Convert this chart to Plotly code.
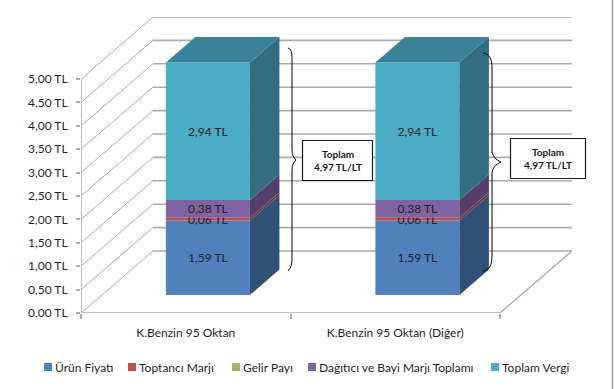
import plotly.graph_objects as go

categories = ["K.Benzin 95 Oktan", "K.Benzin 95 Oktan (Diğer)"]
series_names = ["Ürün Fiyatı", "Toptancı Marjı", "Gelir Payı", "Dağıtıcı ve Bayi Marjı Toplamı", "Toplam Vergi"]
urun_fiyati = [1.59, 1.59]
toptanci_marji = [0.06, 0.06]
gelir_payi = [0.0, 0.0]
dagitici_bayi = [0.38, 0.38]
toplam_vergi = [2.94, 2.94]
series_values = [urun_fiyati, toptanci_marji, gelir_payi, dagitici_bayi, toplam_vergi]
y_ticks = [0, 0.5, 1, 1.5, 2, 2.5, 3, 3.5, 4, 4.5, 5]
y_tick_text = ["0,00 TL", "0,50 TL", "1,00 TL", "1,50 TL", "2,00 TL", "2,50 TL",
               "3,00 TL", "3,50 TL", "4,00 TL", "4,50 TL", "5,00 TL"]
total_label = "Toplam<br>4,97 TL/LT"

front_colors = ["#4F81BD", "#C0504D", "#9BBB59", "#8064A2", "#4BACC6"]
side_colors = ["#2F5077", "#7B3331", "#62773A", "#543F6C", "#316D7F"]
top_color = "#398299"
grid = "#ABABAB"
text_col = "#1F1F1F"
font = "Lato, Carlito, Calibri, sans-serif"

W, H = 614, 389
L, R, T, B = 81, 573, 17, 313
unit_y = 46.8          # pixels per 1 TL
unit_x = 209.5         # pixels per category
DX, DY = 72 / unit_x, 62 / unit_y            # full floor depth in axis units
D0, D1 = 0.29, 0.70                          # depth of bar front and back (fraction)
BAR_W = 84 / unit_x
BAR_OFFSET = 0.006
x_range = [0, (R - L) / unit_x]
y_range = [0, (B - T) / unit_y]


def px(x):
    return (x - L) / (R - L)


def py(y):
    return (B - y) / (B - T)


fig = go.Figure()

# walls: grid lines running from the value axis into the depth and along the back
diag_x, diag_y, back_x, back_y = [], [], [], []
for v in y_ticks:
    diag_x += [0, DX, None]
    diag_y += [v, v + DY, None]
    back_x += [DX, 2 + DX, None]
    back_y += [v + DY, v + DY, None]
fig.add_trace(go.Scatter(x=diag_x, y=diag_y, mode="lines", line=dict(color=grid, width=1),
                         hoverinfo="skip", showlegend=False, cliponaxis=False))
fig.add_trace(go.Scatter(x=back_x, y=back_y, mode="lines", line=dict(color=grid, width=1.6),
                         hoverinfo="skip", showlegend=False, cliponaxis=False))
fig.add_trace(go.Scatter(x=[0, 2, 2 + DX], y=[0, 0, DY], mode="lines", line=dict(color=grid, width=1.4),
                         hoverinfo="skip", showlegend=False, cliponaxis=False))
fig.add_trace(go.Scatter(x=[0, 0], y=[0, y_ticks[-1]], mode="lines", line=dict(color="#BDBDBD", width=2),
                         hoverinfo="skip", showlegend=False, cliponaxis=False))

# bars
for c in range(len(categories)):
    cx = c + 0.5 + BAR_OFFSET
    left = cx - BAR_W / 2 + DX * D0
    right = cx + BAR_W / 2 + DX * D0
    shift = (D1 - D0)
    cum = DY * D0
    for s, vals in enumerate(series_values):
        v = vals[c]
        if v > 0:
            fig.add_trace(go.Scatter(
                x=[right, right + DX * shift, right + DX * shift, right, right],
                y=[cum, cum + DY * shift, cum + v + DY * shift, cum + v, cum],
                mode="lines", fill="toself", fillcolor=side_colors[s], line=dict(width=0),
                hoverinfo="skip", showlegend=False, xaxis="x2", yaxis="y2"))
        cum += v
    fig.add_trace(go.Scatter(
        x=[left, left + DX * shift, right + DX * shift, right, left],
        y=[cum, cum + DY * shift, cum + DY * shift, cum, cum],
        mode="lines", fill="toself", fillcolor=top_color, line=dict(width=0),
        hoverinfo="skip", showlegend=False, xaxis="x2", yaxis="y2"))

bar_x = [c + 0.5 + BAR_OFFSET + DX * D0 for c in range(len(categories))]
cum = [DY * D0] * len(categories)
for s, vals in enumerate(series_values):
    labels = [f"{v:.2f} TL".replace(".", ",") if v > 0 else "" for v in vals]
    fig.add_trace(go.Bar(
        x=bar_x, y=vals, base=cum, width=BAR_W, name=series_names[s],
        marker=dict(color=front_colors[s], line=dict(width=0)),
        text=labels, textposition="inside", insidetextanchor="middle", textangle=0,
        constraintext="none", insidetextfont=dict(family=font, size=12, color=text_col),
        showlegend=False, xaxis="x2", yaxis="y2"))
    cum = [a + b for a, b in zip(cum, vals)]

shapes = []
annotations = []

# hand-drawn looking braces
brace1 = (f"M {px(288)} {py(48)} C {px(291)} {py(49)} {px(292)} {py(52)} {px(292)} {py(60)} "
          f"L {px(292)} {py(150)} C {px(292)} {py(155)} {px(294)} {py(158)} {px(296)} {py(160)} "
          f"C {px(294)} {py(162)} {px(292)} {py(165)} {px(292)} {py(170)} "
          f"L {px(292)} {py(258)} C {px(292)} {py(264)} {px(291)} {py(268)} {px(288)} {py(271)}")
brace2 = (f"M {px(483)} {py(53)} C {px(489)} {py(54)} {px(492)} {py(58)} {px(492)} {py(68)} "
          f"L {px(492)} {py(150)} C {px(492)} {py(156)} {px(496)} {py(160)} {px(501)} {py(162)} "
          f"C {px(496)} {py(164)} {px(492)} {py(168)} {px(492)} {py(174)} "
          f"L {px(492)} {py(256)} C {px(492)} {py(266)} {px(489)} {py(270)} {px(483)} {py(271)}")
shapes.append(dict(type="path", path=brace1, xref="paper", yref="paper",
                   line=dict(color="#000000", width=1)))
shapes.append(dict(type="path", path=brace2, xref="paper", yref="paper",
                   line=dict(color="#000000", width=1)))

# boxes with the total
for x0, x1, y0, y1 in [(302.5, 372.5, 140.5, 180.5), (510.5, 585.5, 138.5, 178.5)]:
    shapes.append(dict(type="rect", x0=px(x0), x1=px(x1), y0=py(y1), y1=py(y0), xref="paper", yref="paper",
                       fillcolor="#FFFFFF", line=dict(color="#1A1A1A", width=1.2)))
    annotations.append(dict(text="<b>" + total_label.replace("<br>", "</b><br><b>") + "</b>",
                            x=px((x0 + x1) / 2), y=py((y0 + y1) / 2), xref="paper", yref="paper",
                            xanchor="center", yanchor="middle",
                            showarrow=False, align="center",
                            font=dict(family=font, size=10, color="#14142A")))

# outer frame line on the right
shapes.append(dict(type="line", x0=px(612.5), x1=px(612.5), y0=py(389), y1=py(0), xref="paper", yref="paper",
                   line=dict(color="#A0A0A0", width=1.5)))

# legend row
legend_swatch_x = [44, 128, 232, 308, 491]
for name, color, sx in zip(series_names, front_colors, legend_swatch_x):
    shapes.append(dict(type="rect", x0=px(sx), x1=px(sx + 8), y0=py(371), y1=py(363), xref="paper", yref="paper",
                       fillcolor=color, line=dict(width=0)))
    annotations.append(dict(text=name, x=px(sx + 9), y=py(367), xref="paper", yref="paper",
                            xanchor="left", yanchor="middle", showarrow=False,
                            font=dict(family=font, size=12, color=text_col)))

fig.update_layout(
    width=W, height=H, autosize=False,
    margin=dict(l=L, r=W - R, t=T, b=H - B, pad=0),
    paper_bgcolor="#FFFFFF", plot_bgcolor="rgba(0,0,0,0)",
    showlegend=False, barmode="overlay",
    font=dict(family=font, size=12, color=text_col),
    xaxis=dict(range=x_range, tickvals=[0.5, 1.5], ticktext=categories, ticks="", ticklen=0,
               showgrid=False, zeroline=False, showline=False, ticklabelstandoff=11, fixedrange=True,
               minor=dict(tickvals=[0, 1, 2], ticks="outside", ticklen=5, tickcolor=grid, tickwidth=1.5, showgrid=False),
               tickfont=dict(family=font, size=12, color=text_col)),
    yaxis=dict(range=y_range, tickvals=y_ticks, ticktext=y_tick_text, ticks="outside", ticklen=4,
               tickcolor=grid, tickwidth=1.5, showgrid=False, zeroline=False, showline=False,
               ticklabelstandoff=6, fixedrange=True,
               tickfont=dict(family=font, size=12, color=text_col)),
    xaxis2=dict(range=x_range, overlaying="x", anchor="y2", visible=False, fixedrange=True),
    yaxis2=dict(range=y_range, overlaying="y", anchor="x2", visible=False, fixedrange=True),
    shapes=shapes, annotations=annotations,
)

fig.write_html("out.html", config={"displayModeBar": False},
               post_script="document.body.style.margin='0';document.body.style.overflow='hidden';")
